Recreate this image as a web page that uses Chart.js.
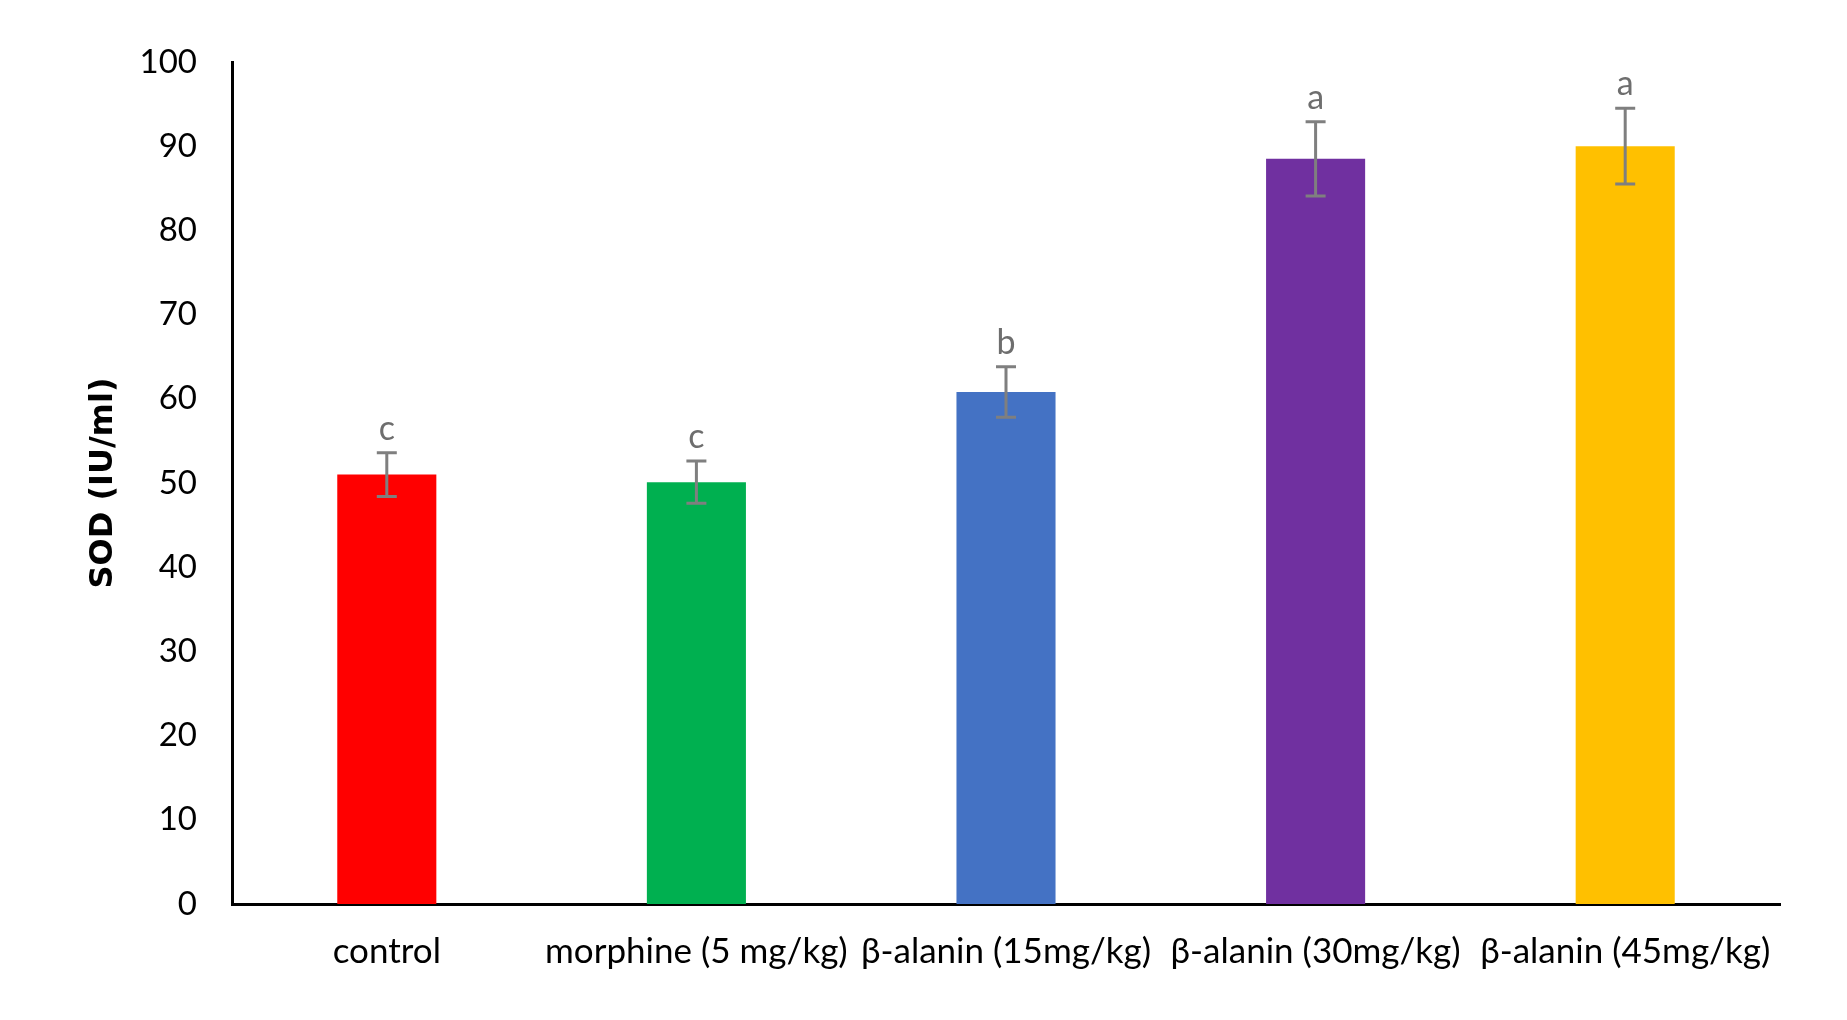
<!DOCTYPE html>
<html>
<head>
<meta charset="utf-8">
<script src="https://cdn.jsdelivr.net/npm/chart.js@4"></script>
<style>
  html, body { margin: 0; padding: 0; background: #fff; }
  #wrap { width: 1847px; height: 1020px; }
</style>
</head>
<body>
<div id="wrap"><canvas id="myChart" width="1847" height="1020"></canvas></div>
<script>
const categories = [
    'control',
    'morphine (5 mg/kg)',
    'β-alanin (15mg/kg)',
    'β-alanin (30mg/kg)',
    'β-alanin (45mg/kg)',
];
const sodValues = [51, 50.1, 60.8, 88.5, 90];   // SOD mean
const sodErrors = [2.6, 2.5, 3.0, 4.4, 4.5];    // +/- error
const sigLetters = ['c', 'c', 'b', 'a', 'a'];
const barColors = ['#FF0000', '#00B050', '#4472C4', '#7030A0', '#FFC000'];
const yTicks = [0, 10, 20, 30, 40, 50, 60, 70, 80, 90, 100];

const FONT = "Lato, 'Open Sans', sans-serif";

// error bars + significance letters
const errorBars = {
    id: 'errorBars',
    afterDatasetsDraw(chart) {
        const ctx = chart.ctx;
        const y = chart.scales.y;
        const meta = chart.getDatasetMeta(0);
        ctx.save();
        ctx.strokeStyle = '#7F7F7F';
        ctx.lineWidth = 3;
        meta.data.forEach((bar, i) => {
            const x = bar.x;
            const top = y.getPixelForValue(sodValues[i] + sodErrors[i]);
            const bot = y.getPixelForValue(sodValues[i] - sodErrors[i]);
            ctx.beginPath();
            ctx.moveTo(x, top); ctx.lineTo(x, bot);
            ctx.moveTo(x - 10, top); ctx.lineTo(x + 10, top);
            ctx.moveTo(x - 10, bot); ctx.lineTo(x + 10, bot);
            ctx.stroke();

            ctx.fillStyle = '#6E6E6E';
            ctx.font = '34px ' + FONT;
            ctx.textAlign = 'center';
            ctx.textBaseline = 'alphabetic';
            ctx.fillText(sigLetters[i], x, top - 13);
        });
        ctx.restore();
    }
};

const ctx = document.getElementById('myChart').getContext('2d');

const data = {
    labels: categories,
    datasets: [
        {
            data: sodValues,
            backgroundColor: barColors,
            borderWidth: 0,
            categoryPercentage: 1,
            barPercentage: 0.32,
        },
    ],
};

const config = {
    type: 'bar',
    data: data,
    plugins: [errorBars],
    options: {
        responsive: false,
        animation: false,
        layout: {
            padding: { top: 62, right: 67, left: 0, bottom: 0 },
        },
        plugins: {
            legend: { display: false },
            tooltip: { enabled: false },
        },
        scales: {
            x: {
                grid: { display: false, drawTicks: false },
                border: { color: '#000', width: 3 },
                ticks: {
                    color: '#000',
                    font: { family: FONT, size: 35 },
                    padding: 27,
                    maxRotation: 0,
                    autoSkip: false,
                },
                afterFit(scale) { scale.height = 116; },
            },
            y: {
                min: 0,
                max: 100,
                afterBuildTicks(scale) {
                    scale.ticks = yTicks.map(v => ({ value: v }));
                },
                grid: { display: false, drawTicks: false },
                border: { color: '#000', width: 3 },
                ticks: {
                    color: '#000',
                    font: { family: FONT, size: 33 },
                    padding: 35,
                },
                title: {
                    display: true,
                    text: 'SOD (IU/ml)',
                    color: '#000',
                    font: { family: "'DejaVu Sans', sans-serif", size: 32, weight: 'bold' },
                    padding: { top: 84, bottom: 0 },
                },
                afterFit(scale) { scale.width = 232; },
            },
        },
    },
};

const myChart = new Chart(ctx, config);
</script>
</body>
</html>
